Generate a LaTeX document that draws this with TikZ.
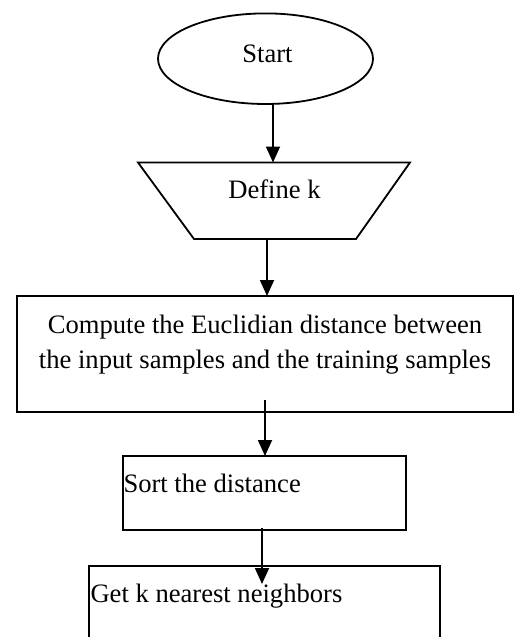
\documentclass[tikz,border=0pt]{standalone}
\usepackage{fontspec}
\setmainfont{Liberation Serif}
\usetikzlibrary{arrows.meta,shapes.geometric}
\begin{document}
\begin{tikzpicture}[x=0.5pt,y=-0.5pt,
  shapeline/.style={draw=black,line width=0.9pt},
  boxnode/.style={shapeline,rectangle,inner sep=0pt,outer sep=0pt},
  lbl/.style={font=\fontsize{13.3}{17.5}\selectfont,inner sep=0pt,outer sep=0pt},
  flow/.style={draw=black,line width=0.9pt,-{Triangle[width=7pt,length=8pt]}}]
\useasboundingbox (0,0) rectangle (515,637);
\clip (0,0) rectangle (515,637);

% Start ellipse
\node[shapeline,ellipse,minimum width=107.5pt,minimum height=45.3pt,inner sep=0pt,outer sep=0pt] (start) at (265.5,58.7) {};
\node[lbl,anchor=base] (startlbl) at (267.5,62) {Start};

% Define k trapezoid
\coordinate (tTL) at (138,162.5);
\coordinate (tTR) at (410,162.5);
\coordinate (tBR) at (356,239);
\coordinate (tBL) at (194,239);
\draw[shapeline,line join=miter] (tTL) -- (tTR) -- (tBR) -- (tBL) -- cycle;
\node[lbl,anchor=base] (deflbl) at (274.5,198) {Define k};

% Compute box
\node[boxnode,minimum width=248pt,minimum height=58pt] (box1) at (265,354) {};
\node[lbl,anchor=base] (c1) at (265,333) {Compute the Euclidian distance between};
\node[lbl,anchor=base] (c2) at (265,368) {the input samples and the training samples};

% Sort box
\node[boxnode,minimum width=141.5pt,minimum height=37pt] (box2) at (264.5,493) {};
\node[lbl,anchor=base west] (sortlbl) at (123.5,492) {Sort the distance};

% Get k box (cut at bottom)
\coordinate (g1) at (89,640);
\coordinate (g2) at (89,566);
\coordinate (g3) at (440,566);
\coordinate (g4) at (440,640);
\draw[shapeline,line join=miter] (g1) -- (g2) -- (g3) -- (g4);
\node[lbl,anchor=base west] (getlbl) at (90.5,602) {Get k nearest neighbors};

% connectors
\coordinate (a1) at (273,0);
\draw[flow] (start.south -| a1) -- (tTL -| a1);
\coordinate (a2) at (267,0);
\draw[flow] (tBL -| a2) -- (box1.north -| a2);
\coordinate (a3s) at (265,400);
\draw[flow] (a3s) -- (box2.north -| a3s);
\coordinate (a4s) at (262,528);
\coordinate (a4e) at (262,584);
\draw[flow] (a4s) -- (a4e);
\end{tikzpicture}
\end{document}
